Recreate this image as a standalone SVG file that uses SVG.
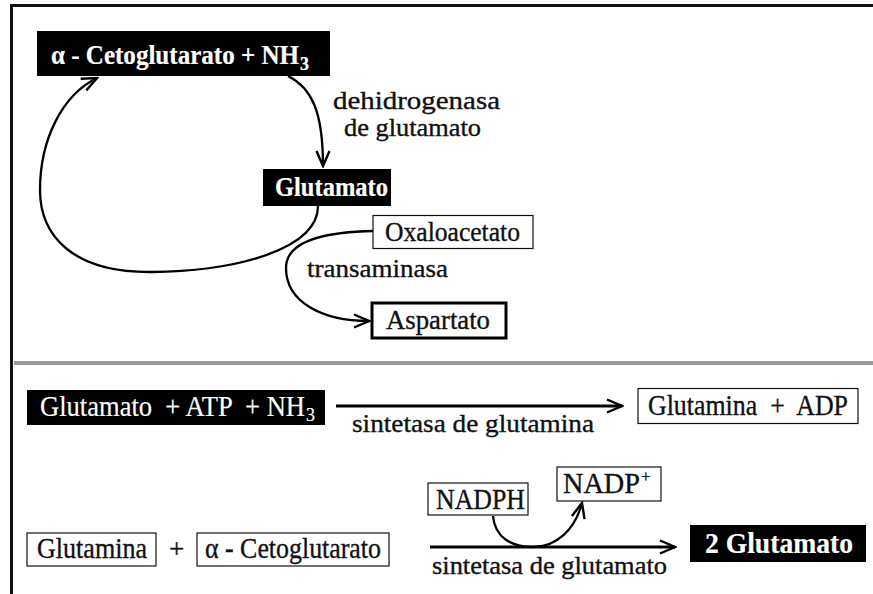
<svg xmlns="http://www.w3.org/2000/svg" width="873" height="594" viewBox="0 0 873 594">
  <style>
    text { font-family: "Liberation Serif", "DejaVu Serif", serif; fill: #111; stroke: #111; stroke-width: 0.35; white-space: pre; }
    .inv { fill: #fff; stroke: #fff; stroke-width: 0.2; }
    .lbl { font-size: 25px; }
    .box { font-size: 27px; }
    .tall { font-size: 29px; }
    .heavy { font-weight: bold; }
    .dark { fill: #000; }
    .plain { fill: #fff; stroke: #111; stroke-width: 1.2; }
    .thick { fill: #fff; stroke: #000; stroke-width: 3; }
    .wire { fill: none; stroke: #000; stroke-width: 2.3; }
    .bar { fill: none; stroke: #000; stroke-width: 3; }
  </style>
  <defs>
    <marker id="vee" markerUnits="userSpaceOnUse" viewBox="0 0 18 16" refX="16" refY="8" markerWidth="18" markerHeight="16" orient="auto">
      <path d="M1,1.5 L16,8 L1,14.5" fill="none" stroke="#000" stroke-width="2.4" stroke-linejoin="miter"/>
    </marker>
  </defs>

  <rect width="873" height="594" fill="#fff"/>

  <!-- frame and section divider -->
  <g id="frame">
    <path d="M11.5,594 V5.5 H873" fill="none" stroke="#111" stroke-width="3"/>
    <line x1="14" y1="363" x2="873" y2="363" stroke="#999" stroke-width="4"/>
  </g>

  <!-- connectors -->
  <g id="connectors">
    <path class="wire" d="M288,76 C312,88 323,112 323,166" marker-end="url(#vee)"/>
    <path class="wire" d="M318,206 C318,248 240,271 152,272 C72,273 40,235 40,190 C40,140 62,95 97,78" marker-end="url(#vee)"/>
    <path class="wire" d="M373,231 C322,232 286,242 286,268 C286,302 322,321 369,321" marker-end="url(#vee)"/>
    <line class="bar" x1="336" y1="406" x2="622" y2="406" marker-end="url(#vee)"/>
    <line class="bar" x1="430" y1="547" x2="675" y2="547" marker-end="url(#vee)"/>
    <path class="wire" d="M493,516 C495,538 512,547 533,547 C556,547 575,530 582,503" marker-end="url(#vee)"/>
  </g>

  <!-- enzyme labels -->
  <g id="labels">
    <text class="lbl" x="333" y="109" textLength="167" lengthAdjust="spacingAndGlyphs">dehidrogenasa</text>
    <text class="lbl" x="344" y="136" textLength="137" lengthAdjust="spacingAndGlyphs">de glutamato</text>
    <text class="lbl" x="307" y="277" textLength="141" lengthAdjust="spacingAndGlyphs">transaminasa</text>
    <text class="lbl" x="352" y="432" textLength="242" lengthAdjust="spacingAndGlyphs">sintetasa de glutamina</text>
    <text class="lbl" x="432" y="574" textLength="235" lengthAdjust="spacingAndGlyphs">sintetasa de glutamato</text>
  </g>

  <!-- upper cycle -->
  <g id="akg-nh3">
    <rect class="dark" x="37" y="31" width="293" height="45"/>
    <text class="box inv heavy" x="51" y="64"><tspan textLength="248" lengthAdjust="spacingAndGlyphs">α - Cetoglutarato + NH</tspan><tspan dx="1" dy="6" font-size="18">3</tspan></text>
  </g>
  <g id="glutamato">
    <rect class="dark" x="263" y="169" width="128" height="37"/>
    <text class="box inv heavy" x="275" y="196" textLength="113" lengthAdjust="spacingAndGlyphs">Glutamato</text>
  </g>
  <g id="oxaloacetato">
    <rect class="plain" x="373" y="215.5" width="160" height="33"/>
    <text class="box" x="385" y="241" textLength="135" lengthAdjust="spacingAndGlyphs">Oxaloacetato</text>
  </g>
  <g id="aspartato">
    <rect class="thick" x="372" y="303" width="134" height="35"/>
    <text class="box" x="386" y="329" textLength="104" lengthAdjust="spacingAndGlyphs">Aspartato</text>
  </g>

  <!-- glutamine synthetase -->
  <g id="glu-atp-nh3">
    <rect class="dark" x="27" y="390" width="298" height="35"/>
    <text class="tall inv" x="40" y="416"><tspan textLength="265" lengthAdjust="spacingAndGlyphs">Glutamato  + ATP  + NH</tspan><tspan dx="1" dy="5" font-size="18">3</tspan></text>
  </g>
  <g id="gln-adp">
    <rect class="plain" x="638" y="388.5" width="220" height="35"/>
    <text class="tall" x="648" y="415" textLength="200" lengthAdjust="spacingAndGlyphs">Glutamina  +  ADP</text>
  </g>

  <!-- glutamate synthase -->
  <g id="glutamina">
    <rect class="plain" x="27" y="533" width="129" height="33"/>
    <text class="tall" x="37" y="558" textLength="110" lengthAdjust="spacingAndGlyphs">Glutamina</text>
  </g>
  <g id="plus">
    <text class="box" x="169" y="558">+</text>
  </g>
  <g id="akg">
    <rect class="plain" x="197" y="533" width="192" height="33"/>
    <text class="tall" x="205" y="558" textLength="176" lengthAdjust="spacingAndGlyphs">α - Cetoglutarato</text>
  </g>
  <g id="nadph">
    <rect class="plain" x="428" y="483" width="100" height="32"/>
    <text class="tall" x="436" y="509" textLength="89" lengthAdjust="spacingAndGlyphs">NADPH</text>
  </g>
  <g id="nadp">
    <rect class="plain" x="557" y="467" width="104" height="34"/>
    <text class="tall" x="563" y="493"><tspan textLength="77" lengthAdjust="spacingAndGlyphs">NADP</tspan><tspan dx="1" dy="-11" font-size="17">+</tspan></text>
  </g>
  <g id="glutamato-2">
    <rect class="dark" x="690" y="525" width="176" height="37"/>
    <text class="tall inv heavy" x="705" y="553" textLength="148" lengthAdjust="spacingAndGlyphs">2 Glutamato</text>
  </g>
</svg>
